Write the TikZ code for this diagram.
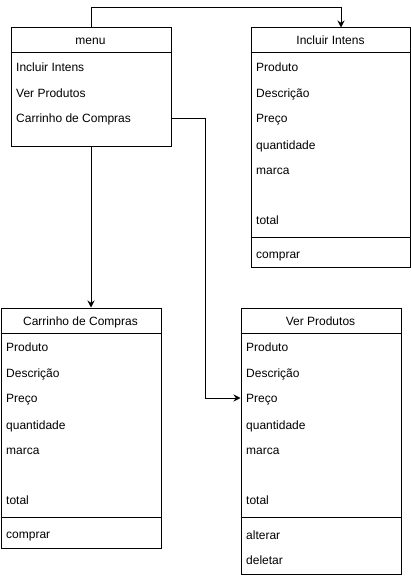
\documentclass[tikz,border=0pt]{standalone}
\usepackage{fontspec}
\setmainfont{Liberation Sans}
\usetikzlibrary{arrows.meta}
\begin{document}
\begin{tikzpicture}[x=1pt,y=-1pt,
  box/.style={draw, line width=1pt, anchor=north west, inner sep=0pt},
  title/.style={font=\fontsize{12}{14}\selectfont, inner sep=0pt, anchor=base},
  item/.style={font=\fontsize{12}{14}\selectfont, anchor=base west, inner sep=0pt},
  sep/.style={line width=1pt},
  arr/.style={line width=1pt, -{Stealth[length=7pt,width=7pt]}}]
\useasboundingbox (0,0) rectangle (411,577);
% menu
\node[box, minimum width=160pt, minimum height=119pt] (menu) at (10.5,27.5) {};
\draw[sep] (10.5,53) -- (170.5,53);
\node[title] (mt) at (90.5,44.5) {menu};
\node[item] (m1) at (16,71.5) {Incluir Intens};
\node[item] (m2) at (16,97.5) {Ver Produtos};
\node[item] (m3) at (16,122.5) {Carrinho de Compras};
% Incluir Intens
\node[box, minimum width=159.5pt, minimum height=239pt] (inc) at (250.5,27.5) {};
\draw[sep] (250.5,53) -- (410,53);
\draw[sep] (250.5,237.5) -- (410,237.5);
\node[title] (it) at (330.5,44.5) {Incluir Intens};
\node[item] (i1) at (256,71.5) {Produto};
\node[item] (i2) at (256,97.5) {Descrição};
\node[item] (i3) at (256,122.5) {Preço};
\node[item] (i4) at (256,149.5) {quantidade};
\node[item] (i5) at (256,174.5) {marca};
\node[item] (i6) at (256,224.5) {total};
\node[item] (i7) at (256,258.5) {comprar};
% Carrinho de Compras
\node[box, minimum width=160pt, minimum height=240pt] (car) at (0.5,307.5) {};
\draw[sep] (0.5,333.5) -- (160.5,333.5);
\draw[sep] (0.5,517.5) -- (160.5,517.5);
\node[title] (ct) at (80.5,325) {Carrinho de Compras};
\node[item] (c1) at (6,351.5) {Produto};
\node[item] (c2) at (6,377.5) {Descrição};
\node[item] (c3) at (6,402.5) {Preço};
\node[item] (c4) at (6,429.5) {quantidade};
\node[item] (c5) at (6,454.5) {marca};
\node[item] (c6) at (6,504.5) {total};
\node[item] (c7) at (6,538.5) {comprar};
% Ver Produtos
\node[box, minimum width=160pt, minimum height=266pt] (ver) at (240.5,307.5) {};
\draw[sep] (240.5,333.5) -- (400.5,333.5);
\draw[sep] (240.5,517.5) -- (400.5,517.5);
\node[title] (vt) at (320.5,325) {Ver Produtos};
\node[item] (v1) at (246,351.5) {Produto};
\node[item] (v2) at (246,377.5) {Descrição};
\node[item] (v3) at (246,402.5) {Preço};
\node[item] (v4) at (246,429.5) {quantidade};
\node[item] (v5) at (246,454.5) {marca};
\node[item] (v6) at (246,504.5) {total};
\node[item] (v7) at (246,539.5) {alterar};
\node[item] (v8) at (246,564.5) {deletar};
% connectors
\coordinate (k1) at (341,7.5);
\coordinate (k3) at (240.5,398);
\draw[arr] (menu.north) |- (k1) -- (inc.north -| k1);
\draw[arr] (menu.south) -- (menu.south |- car.north);
\coordinate (k2) at (205.5,118.5);
\draw[arr] (menu.east |- k2) -- (k2) |- (k3);
\end{tikzpicture}
\end{document}
